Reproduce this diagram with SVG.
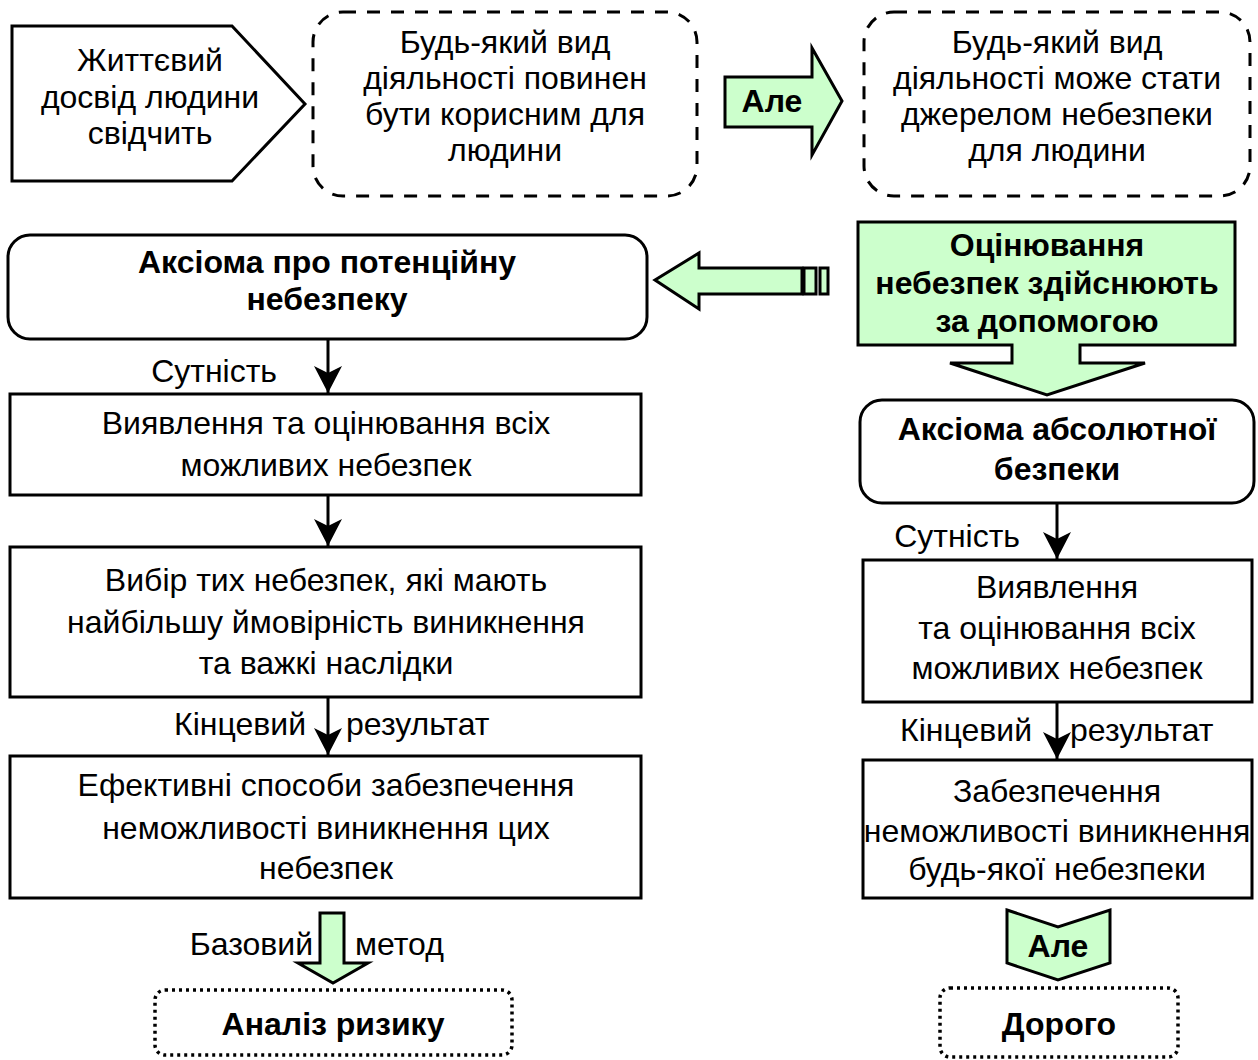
<svg xmlns="http://www.w3.org/2000/svg" width="1258" height="1060" viewBox="0 0 1258 1060">
<style>
text{font-family:"Liberation Sans",Arial,sans-serif;font-size:32px;fill:#000;text-anchor:middle}
.b{font-weight:bold}
.l{text-anchor:end}
.s{text-anchor:start}
.box{fill:#fff;stroke:#000;stroke-width:3}
.dash{fill:#fff;stroke:#000;stroke-width:3;stroke-dasharray:13 11}
.dot{fill:#fff;stroke:#000;stroke-width:3.5;stroke-dasharray:3 4}
.green{fill:#ccffcc;stroke:#000;stroke-width:3;stroke-linejoin:miter}
.con{stroke:#000;stroke-width:3;fill:none}
</style>
<defs>
<marker id="ah" markerUnits="userSpaceOnUse" markerWidth="30" markerHeight="30" viewBox="0 0 30 30" refX="27" refY="15" orient="auto">
<path d="M0,1 L27,15 L0,29 L7,15 Z" fill="#000"/>
</marker>
</defs>

<g id="n-experience">
<polygon class="box" points="12,26 232,26 305,104 232,181 12,181"/>
<text x="150" y="71">Життєвий</text>
<text x="150" y="108">досвід людини</text>
<text x="150" y="144">свідчить</text>
</g>

<g id="n-useful">
<rect class="dash" x="313" y="12" width="384" height="184" rx="30"/>
<text x="505" y="53">Будь-який вид</text>
<text x="505" y="89">діяльності повинен</text>
<text x="505" y="125">бути корисним для</text>
<text x="505" y="161">людини</text>
</g>

<g id="n-but1">
<polygon class="green" points="725,77 812,77 812,48 842,101 812,155 812,127 725,127"/>
<text class="b" x="772" y="112">Але</text>
</g>

<g id="n-danger">
<rect class="dash" x="864" y="12" width="386" height="184" rx="30"/>
<text x="1057" y="53">Будь-який вид</text>
<text x="1057" y="89">діяльності може стати</text>
<text x="1057" y="125">джерелом небезпеки</text>
<text x="1057" y="161">для людини</text>
</g>

<g id="n-axiom1">
<rect class="box" x="8" y="235" width="639" height="104" rx="22"/>
<text class="b" x="327" y="273">Аксіома про потенційну</text>
<text class="b" x="327" y="310">небезпеку</text>
</g>

<g id="n-leftarrow">
<polygon class="green" points="655,280 699,253 699,268 802,268 802,294 699,294 699,309"/>
<rect class="green" x="804" y="268" width="12" height="26"/>
<rect class="green" x="820" y="268" width="8" height="26"/>
</g>

<g id="n-assess">
<path class="green" d="M858,222 H1235 V345 H1080 V363 H1145 L1047,395 L950,363 H1012 V345 H858 Z"/>
<text class="b" x="1047" y="256">Оцінювання</text>
<text class="b" x="1047" y="294">небезпек здійснюють</text>
<text class="b" x="1047" y="332">за допомогою</text>
</g>

<g id="n-axiom2">
<rect class="box" x="860" y="400" width="394" height="103" rx="22"/>
<text class="b" x="1057" y="440">Аксіома абсолютної</text>
<text class="b" x="1057" y="480">безпеки</text>
</g>

<g id="n-l1">
<rect class="box" x="10" y="394" width="631" height="101"/>
<text x="326" y="434">Виявлення та оцінювання всіх</text>
<text x="326" y="476">можливих небезпек</text>
</g>

<g id="n-l2">
<rect class="box" x="10" y="547" width="631" height="150"/>
<text x="326" y="591">Вибір тих небезпек, які мають</text>
<text x="326" y="633">найбільшу ймовірність виникнення</text>
<text x="326" y="674">та важкі наслідки</text>
</g>

<g id="n-l3">
<rect class="box" x="10" y="756" width="631" height="142"/>
<text x="326" y="796">Ефективні способи забезпечення</text>
<text x="326" y="839">неможливості виникнення цих</text>
<text x="326" y="879">небезпек</text>
</g>

<g id="n-r1">
<rect class="box" x="863" y="560" width="389" height="142"/>
<text x="1057" y="598">Виявлення</text>
<text x="1057" y="639">та оцінювання всіх</text>
<text x="1057" y="679">можливих небезпек</text>
</g>

<g id="n-r2">
<rect class="box" x="863" y="760" width="389" height="138"/>
<text x="1057" y="802">Забезпечення</text>
<text x="1057" y="842">неможливості виникнення</text>
<text x="1057" y="880">будь-якої небезпеки</text>
</g>

<g id="n-method">
<polygon class="green" points="320,913 344,913 344,963 368,963 333,983 298,963 320,963"/>
</g>

<g id="n-risk">
<rect class="dot" x="155" y="990" width="357" height="65" rx="10"/>
<text class="b" x="333" y="1035">Аналіз ризику</text>
</g>

<g id="n-but2">
<polygon class="green" points="1007,910 1058,927 1110,910 1110,963 1058,980 1007,963"/>
<text class="b" x="1058" y="957">Але</text>
</g>

<g id="n-expensive">
<rect class="dot" x="940" y="988" width="238" height="69" rx="10"/>
<text class="b" x="1059" y="1035">Дорого</text>
</g>

<g id="connectors">
<line class="con" x1="328" y1="340" x2="328" y2="393" marker-end="url(#ah)"/>
<line class="con" x1="328" y1="495" x2="328" y2="546" marker-end="url(#ah)"/>
<line class="con" x1="328" y1="697" x2="328" y2="755" marker-end="url(#ah)"/>
<line class="con" x1="1057" y1="503" x2="1057" y2="559" marker-end="url(#ah)"/>
<line class="con" x1="1057" y1="702" x2="1057" y2="759" marker-end="url(#ah)"/>
</g>

<g id="labels">
<text class="l" x="277" y="382">Сутність</text>
<text class="l" x="306" y="735">Кінцевий</text>
<text class="s" x="346" y="735">результат</text>
<text class="l" x="1020" y="547">Сутність</text>
<text class="l" x="1032" y="741">Кінцевий</text>
<text class="s" x="1070" y="741">результат</text>
<text class="l" x="313" y="955">Базовий</text>
<text class="s" x="355" y="955">метод</text>
</g>
</svg>
